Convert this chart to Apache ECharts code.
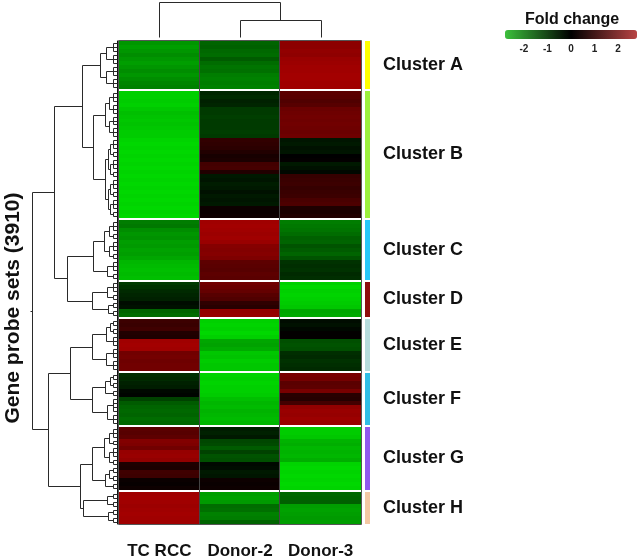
<!DOCTYPE html>
<html><head><meta charset="utf-8">
<script src="https://cdn.jsdelivr.net/npm/echarts@6/dist/echarts.min.js"></script>
<style>html,body{margin:0;padding:0;background:#fff}#c{width:638px;height:560px}</style>
</head><body><div id="c"></div>
<script>
// ---------------- data ----------------
const columns = ['TC RCC', 'Donor-2', 'Donor-3'];
const clusterNames = ['Cluster A', 'Cluster B', 'Cluster C', 'Cluster D', 'Cluster E', 'Cluster F', 'Cluster G', 'Cluster H'];
const clusterSizes = [12, 32, 15, 9, 13, 13, 16, 8];
const legendTicks = [-2, -1, 0, 1, 2];

// log2 fold change, rows in heatmap order (cluster by cluster)
const tcRccValues = [
  -1.8, -1.9, -1.8, -1.7, -1.8, -1.9, -1.8, -1.7, -1.8, -1.7, -1.6, -1.55,
  -2.5, -2.5, -2.45, -2.5, -2.4, -2.3, -2.35, -2.4, -2.35, -2.4, -2.45, -2.45,
  -2.55, -2.6, -2.55, -2.6, -2.55, -2.6, -2.55, -2.6, -2.55, -2.6, -2.55, -2.6, -2.55, -2.6, -2.55, -2.6, -2.55, -2.6, -2.55, -2.6,
  -1.5, -1.45, -1.7, -1.8, -1.75, -1.9, -1.85, -1.95, -1.9, -2.0, -2.2, -2.25, -2.3, -2.25, -2.3,
  -0.7, -0.6, -0.5, -0.45, -0.4, -0.15, -0.2, -1.2, -1.3,
  0.9, 0.85, 0.95, 0.5, 0.45, 2.4, 2.45, 2.4, 1.7, 1.75, 1.65, 1.7, 1.7,
  -0.55, -0.5, -0.4, -0.35, -0.1, -0.05, -0.8, -1.1, -1.2, -1.25, -1.2, -1.3, -1.25,
  1.35, 1.3, 1.4, 1.95, 1.9, 1.7, 2.25, 2.3, 2.2, 0.45, 0.4, 0.95, 0.9, 0.15, 0.1, 0.2,
  2.4, 2.45, 2.4, 2.35, 2.4, 2.45, 2.4, 2.4
];
const donor2Values = [
  -1.2, -1.15, -1.25, -1.3, -1.1, -1.3, -1.4, -1.35, -1.5, -1.55, -1.5, -1.55,
  -0.45, -0.5, -0.4, -0.45, -0.7, -0.7, -0.75, -0.7, -0.7, -0.7, -0.75, -0.7,
  0.75, 0.7, 0.65, 0.5, 0.35, 0.4, 1.0, 1.05, 0.5, -0.3, -0.25, -0.35, -0.3, -0.2, -0.3, -0.25, -0.3, 0.2, 0.15, 0.2,
  2.4, 2.45, 2.4, 2.35, 2.4, 2.3, 2.0, 1.95, 2.0, 1.9, 1.4, 1.35, 1.3, 1.4, 1.35,
  1.7, 1.6, 1.5, 1.3, 1.2, 0.7, 0.6, 2.2, 2.25,
  -2.5, -2.55, -2.5, -2.6, -2.5, -2.0, -1.95, -2.05, -2.4, -2.35, -2.45, -2.4, -2.4,
  -2.55, -2.5, -2.55, -2.5, -2.5, -2.45, -2.3, -2.2, -2.25, -2.15, -2.2, -2.25, -2.2,
  -0.35, -0.4, -0.3, -0.85, -0.9, -1.1, -0.8, -1.0, -0.95, -0.1, -0.15, -0.3, -0.25, 0.2, 0.15, 0.2,
  -1.9, -1.95, -1.85, -1.3, -1.35, -1.55, -1.5, -1.2
];
const donor3Values = [
  2.1, 2.1, 2.2, 2.15, 2.3, 2.35, 2.4, 2.4, 2.45, 2.45, 2.4, 2.4,
  1.35, 1.3, 1.2, 1.3, 1.6, 1.65, 1.7, 1.65, 1.7, 1.65, 1.6, 1.65,
  -0.25, -0.3, -0.2, -0.25, 0, 0.05, -0.3, -0.2, -0.1, 0.8, 0.85, 0.9, 0.8, 0.85, 0.9, 1.1, 1.15, 0.45, 0.4, 0.5,
  -1.5, -1.45, -1.4, -1.3, -1.15, -1.2, -1.0, -1.1, -1.2, -1.0, -0.6, -0.55, -0.6, -0.5, -0.55,
  -2.5, -2.6, -2.5, -2.55, -2.5, -2.45, -2.4, -2.0, -2.05,
  -0.15, -0.2, -0.1, 0.05, 0.05, -0.95, -1.0, -0.95, -0.55, -0.5, -0.6, -0.55, -0.5,
  1.8, 1.75, 1.35, 1.4, 1.8, 0.6, 0.55, 1.0, 2.2, 2.3, 2.25, 2.35, 2.3,
  -2.45, -2.45, -2.4, -2.15, -2.1, -2.2, -2.15, -2.2, -2.1, -2.55, -2.6, -2.55, -2.6, -2.55, -2.6, -2.55,
  -1.25, -1.2, -1.15, -1.9, -1.95, -1.9, -1.85, -1.9
];

// row dendrogram: [height, left, right]; a number = group of that many leaf rows
const clusterTrees = {
  A: [17, [11, 3, 3], [11, 3, 3]],
  B: [24, [12, [8, 3, 3], [8, 3, 3]], [12, [9, [7, 3, 2], [7, 3, 2]], [9, [7, 3, 2], [7, 3, 2]]]],
  C: [24, [13, [8, 3, 2], [8, 3, 2]], [10, 3, 2]],
  D: [25, [10, 3, 2], [9, 2, 2]],
  E: [25, [11, [7, 2, 2], 3], [11, 3, 3]],
  F: [25, [12, [7, 2, 2], 2], [10, 4, 3]],
  G: [25, [13, [8, 3, 2], [8, 3, 2]], [12, [8, 2, 2], 2]],
  H: [34, [10, 2, 2], [9, 2, 2]]
};
const rowTree = [85, [63, [35, 'A', 'B'], [50, 'C', 'D']], [69, [47, 'E', 'F'], [37, 'G', 'H']]];
// column dendrogram: leaves are column indices
const colTree = [1, 0, [0.49, 1, 2]];

// ---------------- styles ----------------
const clusterColors = ['#ffff00', '#9cf03c', '#28c8f8', '#8e0c0c', '#b6dcdc', '#30bee6', '#9058ee', '#f4c8a4'];
const FONT = 'Liberation Sans, Arial, sans-serif';
const GAP = 0.5, COMB = 4, TOTALH = 87;
const GRID_TOP = 41, GRID_BOTTOM = 36;

// ---------------- layout helpers ----------------
const rowY = [];
const clusterSpans = [];
let yCur = 0;
clusterSizes.forEach((n, ci) => {
  const s = yCur;
  for (let i = 0; i < n; i++) { rowY.push(yCur); yCur += 1; }
  clusterSpans.push([s, yCur, ci]);
  if (ci < clusterSizes.length - 1) yCur += GAP;
});
const totalY = yCur;

const valuesByCol = [tcRccValues, donor2Values, donor3Values];
const heatData = [];
valuesByCol.forEach((vals, c) => {
  vals.forEach((v, i) => heatData.push([c, rowY[i], rowY[i] + 1, v]));
});

// row dendrogram segments [h1, y1, h2, y2]
const rowSegs = [];
let rowCursor = 0;
function layoutRow(node) {
  if (typeof node === 'string') return layoutRow(clusterTrees[node]);
  if (typeof node === 'number') {
    const ys = [];
    for (let i = 0; i < node; i++) { ys.push(rowY[rowCursor] + 0.5); rowCursor++; }
    if (node === 1) return { y: ys[0], h: 0 };
    ys.forEach(y => rowSegs.push([0, y, COMB, y]));
    rowSegs.push([COMB, ys[0], COMB, ys[ys.length - 1]]);
    return { y: (ys[0] + ys[ys.length - 1]) / 2, h: COMB };
  }
  const h = node[0];
  const a = layoutRow(node[1]);
  const b = layoutRow(node[2]);
  rowSegs.push([a.h, a.y, h, a.y]);
  rowSegs.push([b.h, b.y, h, b.y]);
  rowSegs.push([h, a.y, h, b.y]);
  return { y: (a.y + b.y) / 2, h: h };
}
const rootR = layoutRow(rowTree);
rowSegs.push([rootR.h, rootR.y, TOTALH, rootR.y]);

// column dendrogram segments [x1, h1, x2, h2]
const colSegs = [];
function layoutCol(node) {
  if (typeof node === 'number') return { x: node, h: 0 };
  const h = node[0];
  const a = layoutCol(node[1]);
  const b = layoutCol(node[2]);
  colSegs.push([a.x, a.h, a.x, h]);
  colSegs.push([b.x, b.h, b.x, h]);
  colSegs.push([a.x, h, b.x, h]);
  return { x: (a.x + b.x) / 2, h: h };
}
layoutCol(colTree);

const crisp = v => Math.round(v) + 0.5;
function segRender(params, api) {
  const p1 = api.coord([api.value(0), api.value(1)]);
  const p2 = api.coord([api.value(2), api.value(3)]);
  return {
    type: 'line',
    shape: { x1: crisp(p1[0]), y1: crisp(p1[1]), x2: crisp(p2[0]), y2: crisp(p2[1]) },
    style: { stroke: '#2a2a2a', lineWidth: 1 }
  };
}

const chart = echarts.init(document.getElementById('c'), null, { renderer: 'canvas' });
chart.setOption({
  animation: false,
  backgroundColor: '#fff',
  grid: [
    { left: 119, right: 277, top: GRID_TOP, bottom: GRID_BOTTOM },          // heatmap
    { left: 30, width: 87, top: GRID_TOP, bottom: GRID_BOTTOM },            // row dendrogram
    { left: 119, right: 277, top: 2, height: 35 },                          // column dendrogram
    { left: 365, width: 5, top: GRID_TOP, bottom: GRID_BOTTOM },            // cluster bar
    { left: 505, width: 132, top: 40, height: 1 }                           // legend ticks
  ],
  xAxis: [
    { gridIndex: 0, type: 'category', data: columns, position: 'bottom',
      axisLine: { show: false }, axisTick: { show: false }, splitLine: { show: false },
      axisLabel: { interval: 0, fontFamily: FONT, fontWeight: 'bold', fontSize: 17, color: '#111', margin: 19,
        hideOverlap: false } },
    { gridIndex: 1, type: 'value', min: 0, max: TOTALH, inverse: true, show: false },
    { gridIndex: 2, type: 'value', min: -0.5, max: 2.5, show: false },
    { gridIndex: 3, type: 'value', min: 0, max: 1, show: false },
    { gridIndex: 4, type: 'value', min: -2.8, max: 2.8,
      axisLine: { show: false }, axisTick: { show: false }, splitLine: { show: false },
      axisLabel: { showMinLabel: false, showMaxLabel: false, fontFamily: FONT, fontWeight: 'bold',
        fontSize: 10, color: '#222', margin: 3,
        formatter: v => (legendTicks.indexOf(v) >= 0 ? String(v) : '') } }
  ],
  yAxis: [
    { gridIndex: 0, type: 'value', min: 0, max: totalY, inverse: true, show: false },
    { gridIndex: 1, type: 'value', min: 0, max: totalY, inverse: true, position: 'right',
      axisLine: { show: true, lineStyle: { color: '#111', width: 1 } }, axisTick: { show: false },
      axisLabel: { show: false }, splitLine: { show: false } },
    { gridIndex: 2, type: 'value', min: 0, max: 1, show: false },
    { gridIndex: 3, type: 'value', min: 0, max: totalY, inverse: true, show: false },
    { gridIndex: 4, type: 'value', min: 0, max: 1, show: false }
  ],
  visualMap: [
    { type: 'continuous', show: false, min: -2.6, max: 2.6, dimension: 3, seriesIndex: 0,
      inRange: { color: ['#00d800', '#000000', '#ad0000'] } },
    { type: 'continuous', show: true, min: -2.8, max: 2.8, seriesIndex: 5, orient: 'horizontal',
      left: 505, top: 30, itemWidth: 9, itemHeight: 132, padding: 0, calculable: false,
      hoverLink: false, text: null, showLabel: false,
      inRange: { color: ['#3cc03c', '#000000', '#b84444'] } }
  ],
  graphic: [
    { type: 'text', left: 525, top: 12,
      style: { text: 'Fold change', font: 'bold 16px ' + FONT, fill: '#111' } },
    { type: 'text', x: 13, y: 308, rotation: Math.PI / 2,
      style: { text: 'Gene probe sets (3910)', font: 'bold 21px ' + FONT, fill: '#111',
        textAlign: 'center', textVerticalAlign: 'middle' } }
  ],
  series: [
    { // 0 heatmap cells
      type: 'custom', xAxisIndex: 0, yAxisIndex: 0, data: heatData,
      encode: { x: 0, y: [1, 2] },
      renderItem: (params, api) => {
        const p0 = api.coord([api.value(0), api.value(1)]);
        const p1 = api.coord([api.value(0), api.value(2)]);
        const w = api.size([1, 0])[0];
        const x0 = Math.round(p0[0] - w / 2), x1 = Math.round(p0[0] + w / 2);
        const y0 = Math.round(p0[1]), y1 = Math.round(p1[1]);
        return { type: 'rect', shape: { x: x0, y: y0, width: x1 - x0, height: y1 - y0 },
          style: { fill: api.visual('color') } };
      }
    },
    { // 1 frame and column dividers
      type: 'custom', xAxisIndex: 0, yAxisIndex: 0, data: [[0, 0, 0, 0]], z: 5, silent: true,
      renderItem: (params, api) => {
        const cs = params.coordSys;
        const ch = [];
        ch.push({ type: 'rect', shape: { x: crisp(cs.x) - 1, y: crisp(cs.y) - 1, width: Math.round(cs.width) + 1, height: Math.round(cs.height) + 1 },
          style: { fill: null, stroke: '#555', lineWidth: 1 } });
        const bw = api.size([1, 0])[0];
        for (let k = 1; k < columns.length; k++) {
          const x = crisp(api.coord([k, 0])[0] - bw / 2) - 1;
          ch.push({ type: 'line', shape: { x1: x, y1: cs.y, x2: x, y2: cs.y + cs.height },
            style: { stroke: '#444', lineWidth: 1 } });
        }
        return { type: 'group', children: ch };
      }
    },
    { // 2 row dendrogram
      type: 'custom', xAxisIndex: 1, yAxisIndex: 1, data: rowSegs, silent: true,
      encode: { x: [0, 2], y: [1, 3] }, renderItem: segRender
    },
    { // 3 column dendrogram
      type: 'custom', xAxisIndex: 2, yAxisIndex: 2, data: colSegs, silent: true,
      encode: { x: [0, 2], y: [1, 3] }, renderItem: segRender
    },
    { // 4 cluster bar + labels
      type: 'custom', xAxisIndex: 3, yAxisIndex: 3, data: clusterSpans, silent: true,
      encode: { y: [0, 1] },
      renderItem: (params, api) => {
        const a = api.coord([0, api.value(0)]);
        const b = api.coord([1, api.value(1)]);
        const idx = api.value(2);
        return { type: 'group', children: [
          { type: 'rect', shape: { x: a[0], y: Math.round(a[1]), width: b[0] - a[0], height: Math.round(b[1]) - Math.round(a[1]) },
            style: { fill: clusterColors[idx] } },
          { type: 'text', x: b[0] + 13, y: (a[1] + b[1]) / 2,
            style: { text: clusterNames[idx], font: 'bold 18px ' + FONT, fill: '#111',
              textAlign: 'left', textVerticalAlign: 'middle' } }
        ] };
      }
    },
    { // 5 legend helper (drives visible colour bar)
      type: 'line', xAxisIndex: 4, yAxisIndex: 4, data: [], silent: true
    }
  ]
});
</script>
</body></html>
